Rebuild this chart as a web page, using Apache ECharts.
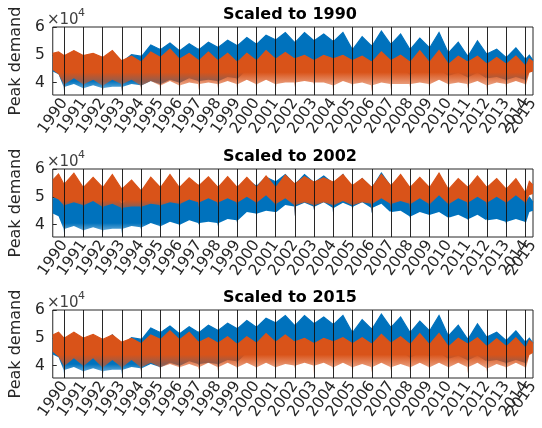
<!DOCTYPE html>
<html>
<head>
<meta charset="utf-8">
<script src="https://cdn.jsdelivr.net/npm/echarts@6/dist/echarts.min.js"></script>
<style>
  html, body { margin: 0; padding: 0; background: #fff; }
  #chart { width: 542px; height: 428px; }
</style>
</head>
<body>
<div id="chart"></div>
<script>
// 年份刻度 (x 轴), 数据从 1989.4 到 2014.39
var years = [1990, 1991, 1992, 1993, 1994, 1995, 1996, 1997, 1998, 1999, 2000, 2001, 2002,
  2003, 2004, 2005, 2006, 2007, 2008, 2009, 2010, 2011, 2012, 2013, 2014];
var xStart = 1989.4;
var xEnd = 2014.39;
var tickLabels = ['1990', '1991', '1992', '1993', '1994', '1995', '1996', '1997', '1998', '1999',
  '2000', '2001', '2002', '2003', '2004', '2005', '2006', '2007', '2008', '2009', '2010', '2011',
  '2012', '2013', '2014', '2015'];
var yTicks = [4, 5, 6];

// values in units of 10^4
// *Mid: middle of each year (first = partial 1989, last = partial 2014), 26 values
// *Edge: next to each year boundary (start, 1990..2014, end), 27 values
// *Dip: holiday dip right at 1990..2014, 25 values
var blueHiMid = [5.05, 5.1, 5.0, 5.1, 5.0, 5.35, 5.42, 5.4, 5.45, 5.52, 5.62, 5.7, 5.8,
  5.8, 5.75, 5.8, 5.65, 5.85, 5.75, 5.6, 5.8, 5.45, 5.5, 5.2, 5.25, 4.98];
var blueHiEdge = [4.9, 4.85, 4.85, 4.8, 4.75, 4.95, 5.2, 5.16, 5.2, 5.28, 5.34, 5.4, 5.55, 5.46,
  5.52, 5.5, 5.22, 5.34, 5.4, 5.22, 5.28, 5.1, 4.98, 5.04, 4.92, 4.86, 4.8];
var blueLoMid = [4.3, 3.95, 3.9, 3.85, 3.95, 4.05, 4.1, 4.15, 4.1, 4.2, 4.45, 4.5, 4.7,
  4.78, 4.8, 4.78, 4.8, 4.75, 4.5, 4.45, 4.45, 4.35, 4.35, 4.2, 4.2, 4.45];
var blueLoEdge = [4.4, 3.85, 3.8, 3.8, 3.85, 3.9, 3.95, 4.0, 4.05, 4.05, 4.15, 4.4, 4.45, 4.65,
  4.65, 4.6, 4.65, 4.6, 4.45, 4.3, 4.35, 4.25, 4.2, 4.15, 4.1, 4.1, 4.5];
var blueDip = [3.6, 3.72, 3.68, 3.68, 3.8, 3.87, 3.93, 3.99, 3.93, 4.04, 4.35, 4.45, 4.3,
  4.5, 4.28, 4.5, 4.4, 4.5, 4.22, 4.35, 4.29, 4.17, 4.22, 3.98, 4.05];

// scaled to 1990
var o1HiMid = [5.1, 5.15, 5.05, 5.15, 4.95, 5.1, 5.2, 5.05, 5.1, 5.05, 5.05, 5.15, 5.08,
  4.98, 4.98, 4.98, 4.95, 5.1, 4.98, 5.15, 5.15, 4.95, 4.95, 4.9, 4.95, 4.85];
var o1HiEdge = [5.05, 4.98, 4.98, 4.92, 4.8, 4.75, 4.92, 4.86, 4.8, 4.8, 4.75, 4.8, 4.86, 4.86,
  4.8, 4.86, 4.8, 4.75, 4.8, 4.75, 4.75, 4.68, 4.75, 4.68, 4.68, 4.62, 4.75];
var o1LoMid = [4.3, 4.15, 4.1, 4.1, 4.1, 4.05, 4.05, 4.0, 4.0, 4.05, 4.1, 4.1, 4.0,
  4.05, 4.0, 4.05, 4.0, 4.0, 3.95, 4.0, 4.1, 4.0, 4.05, 4.0, 4.05, 4.35];
var o1LoEdge = [4.45, 3.95, 3.95, 3.9, 3.95, 3.9, 3.9, 3.9, 3.95, 3.95, 3.95, 3.95, 3.95, 4.0,
  4.0, 3.9, 3.95, 3.9, 3.95, 3.95, 3.95, 3.95, 3.95, 3.9, 3.95, 3.95, 4.4];
var o1Dip = [3.66, 3.72, 3.6, 3.66, 3.66, 3.6, 3.6, 3.72, 3.78, 3.72, 3.72, 3.72, 3.84,
  3.9, 3.6, 3.72, 3.66, 3.72, 3.78, 3.72, 3.78, 3.78, 3.66, 3.72, 3.84];

// scaled to 2002
var o2HiMid = [5.82, 5.85, 5.7, 5.8, 5.6, 5.7, 5.8, 5.68, 5.72, 5.72, 5.7, 5.75, 5.78,
  5.72, 5.68, 5.8, 5.66, 5.8, 5.8, 5.7, 5.85, 5.65, 5.75, 5.65, 5.65, 5.55];
var o2HiEdge = [5.6, 5.48, 5.36, 5.36, 5.3, 5.24, 5.36, 5.36, 5.42, 5.36, 5.36, 5.36, 5.36, 5.48,
  5.54, 5.54, 5.42, 5.36, 5.42, 5.36, 5.36, 5.3, 5.36, 5.36, 5.3, 5.18, 5.42];
var o2LoMid = [4.9, 4.8, 4.85, 4.75, 4.65, 4.75, 4.8, 4.9, 4.95, 4.95, 5.0, 5.05, 4.95,
  4.8, 4.8, 4.85, 4.8, 4.95, 4.85, 4.95, 5.05, 4.95, 5.0, 5.0, 5.05, 5.05];
var o2LoEdge = [5.0, 4.7, 4.7, 4.65, 4.6, 4.65, 4.7, 4.75, 4.8, 4.8, 4.8, 4.8, 4.75, 4.7,
  4.7, 4.7, 4.7, 4.75, 4.75, 4.75, 4.75, 4.75, 4.8, 4.8, 4.8, 4.8, 5.1];
var o2Dip = [4.5, 4.55, 4.5, 4.5, 4.55, 4.55, 4.6, 4.6, 4.6, 4.6, 4.45, 4.47, 4.3,
  4.52, 4.29, 4.53, 4.41, 4.53, 4.4, 4.45, 4.5, 4.4, 4.5, 4.3, 4.35];

// scaled to 2015
var o3HiMid = [5.2, 5.2, 5.12, 5.1, 4.98, 5.1, 5.25, 5.2, 5.0, 5.04, 5.04, 5.15, 5.1,
  4.98, 4.98, 5.0, 5.0, 5.12, 5.04, 5.15, 5.15, 4.98, 5.0, 4.96, 5.0, 4.9];
var o3HiEdge = [5.1, 5.0, 5.0, 4.95, 4.85, 4.8, 4.95, 4.95, 4.85, 4.82, 4.78, 4.82, 4.86, 4.86,
  4.8, 4.86, 4.8, 4.78, 4.82, 4.78, 4.78, 4.7, 4.78, 4.7, 4.7, 4.65, 4.8];
var o3LoMid = [4.32, 4.26, 4.26, 4.2, 4.2, 4.1, 4.05, 4.05, 4.1, 4.1, 4.1, 4.1, 4.05,
  4.1, 4.1, 4.1, 4.05, 4.1, 4.05, 4.1, 4.1, 4.1, 4.1, 4.05, 4.1, 4.38];
var o3LoEdge = [4.5, 4.0, 4.0, 3.95, 3.95, 3.95, 3.95, 3.95, 3.95, 3.95, 3.95, 3.95, 3.95, 4.0,
  4.0, 3.95, 3.95, 3.95, 3.95, 3.95, 3.95, 3.95, 3.95, 3.9, 3.95, 3.95, 4.45];
var o3Dip = [3.75, 3.8, 3.72, 3.78, 3.72, 3.72, 3.78, 3.84, 3.78, 3.84, 3.84, 3.9, 3.9,
  3.6, 3.8, 3.7, 3.75, 3.8, 3.75, 3.8, 3.8, 3.72, 3.75, 3.78, 3.85];

var BLUE = '#0072BD';
var ORANGE = '#D95319';
var FONT = 'DejaVu Sans';
var TXT = '#262626';

var tickPos = years.concat([xEnd]);
// 两根叠放的 x 轴各显示一半刻度标签, 以免 echarts 隐藏重叠的首尾标签
var evenPos = tickPos.filter(function (v, i) { return i % 2 === 0 && i < years.length; });
var oddPos = tickPos.filter(function (v, i) { return i % 2 === 1 || i === years.length; });
var gridTops = [27, 169, 310];
var titles = ['Scaled to 1990', 'Scaled to 2002', 'Scaled to 2015'];
var oranges = [
  [o1HiMid, o1HiEdge, o1LoMid, o1LoEdge, o1Dip],
  [o2HiMid, o2HiEdge, o2LoMid, o2LoEdge, o2Dip],
  [o3HiMid, o3HiEdge, o3LoMid, o3LoEdge, o3Dip]
];

// [x, hi, lo] 点列
var bandPoints = function (hiMid, hiEdge, loMid, loEdge, dip) {
  var pts = [[xStart, hiEdge[0], loEdge[0]], [1989.7, hiMid[0], loMid[0]]];
  years.forEach(function (y, i) {
    pts.push([y - 0.04, hiEdge[i + 1], loEdge[i + 1]]);
    pts.push([y, hiEdge[i + 1], dip[i]]);
    pts.push([y + 0.04, hiEdge[i + 1], loEdge[i + 1]]);
    pts.push([i < years.length - 1 ? y + 0.5 : 2014.2, hiMid[i + 1], loMid[i + 1]]);
  });
  pts.push([xEnd, hiEdge[26], loEdge[26]]);
  return pts;
};

// 下部颜色变浅 (稀疏的日值)
var fade = function (rgb, solidTo, lightFrom, alpha) {
  return {
    type: 'linear', x: 0, y: 0, x2: 0, y2: 1,
    colorStops: [
      { offset: 0, color: 'rgb(' + rgb + ')' },
      { offset: solidTo, color: 'rgb(' + rgb + ')' },
      { offset: lightFrom, color: 'rgba(' + rgb + ',' + alpha + ')' },
      { offset: 1, color: 'rgba(' + rgb + ',' + alpha + ')' }
    ]
  };
};

// 带状区域: 上下包络之间填色
var band = function (g, pts, fill, stroke) {
  return {
    type: 'custom', xAxisIndex: 2 * g, yAxisIndex: g, silent: true, animation: false, clip: true,
    data: pts,
    encode: { x: 0, y: [1, 2] },
    renderItem: function (params, api) {
      if (params.dataIndex !== 0) return null;
      var top = pts.map(function (p) { return api.coord([p[0], p[1]]); });
      var bot = pts.map(function (p) { return api.coord([p[0], p[2]]); }).reverse();
      return {
        type: 'group',
        children: [
          { type: 'polygon', shape: { points: top.concat(bot) }, style: { fill: fill } },
          { type: 'polyline', shape: { points: top }, style: { fill: null, stroke: stroke, lineWidth: 1.2 } }
        ]
      };
    }
  };
};

var xAxisFor = function (g, values) {
  return {
    type: 'value', gridIndex: g, min: xStart, max: xEnd, position: 'bottom', offset: 0,
    axisLine: { show: false }, splitLine: { show: false }, axisTick: { show: false },
    axisLabel: {
      customValues: values,
      showMinLabel: true, showMaxLabel: true,
      formatter: function (v) {
        return v > 2014.2 ? tickLabels[25] : tickLabels[Math.round(v) - 1990];
      },
      rotate: 55, margin: 5, fontSize: 15.5, color: TXT, fontFamily: FONT
    }
  };
};

var grids = [], xAxes = [], yAxes = [], series = [], graphics = [];
gridTops.forEach(function (top, g) {
  grids.push({ left: 47, top: top, width: 486, height: 68, show: true,
    borderColor: TXT, borderWidth: 1 });
  xAxes.push(xAxisFor(g, evenPos));
  xAxes.push(xAxisFor(g, oddPos));
  yAxes.push({
    type: 'value', gridIndex: g, min: 3.55, max: 6,
    name: 'Peak demand', nameLocation: 'middle', nameGap: 21,
    nameTextStyle: { fontSize: 16, color: TXT, fontFamily: FONT },
    axisLine: { show: false }, splitLine: { show: false },
    axisTick: { show: true, inside: true, length: 4, customValues: yTicks, lineStyle: { color: TXT } },
    axisLabel: { customValues: yTicks, margin: 8, fontSize: 15.5, color: TXT, fontFamily: FONT }
  });

  var o = oranges[g];
  series.push(band(g, bandPoints(blueHiMid, blueHiEdge, blueLoMid, blueLoEdge, blueDip),
    fade('0,114,189', 0.8, 0.92, 0.6), BLUE));
  series.push(band(g, bandPoints(o[0], o[1], o[2], o[3], o[4]),
    fade('217,83,25', g === 1 ? 0.62 : 0.52, g === 1 ? 0.82 : 0.8, 0.55), ORANGE));
  // 年份竖线
  series.push({
    type: 'line', xAxisIndex: 2 * g, yAxisIndex: g, data: [], silent: true, animation: false,
    markLine: {
      silent: true, symbol: 'none', animation: false, label: { show: false },
      lineStyle: { color: '#111', width: 1, type: 'solid', opacity: 0.9 },
      emphasis: { disabled: true },
      data: years.map(function (y) { return { xAxis: y }; })
    }
  });

  graphics.push({ type: 'text', x: 290, y: top - 12, z: 10, style: {
    text: titles[g], font: 'bold 16px "DejaVu Sans"', fill: '#000',
    align: 'center', verticalAlign: 'middle', textAlign: 'center', textVerticalAlign: 'middle' } });
  graphics.push({ type: 'text', x: 47, y: top - 7, z: 10, style: {
    text: '\u00d710', font: '15px "DejaVu Sans"', fill: '#404040',
    align: 'left', verticalAlign: 'middle', textAlign: 'left', textVerticalAlign: 'middle' } });
  graphics.push({ type: 'text', x: 78, y: top - 14, z: 10, style: {
    text: '4', font: '11px "DejaVu Sans"', fill: '#404040',
    align: 'left', verticalAlign: 'middle', textAlign: 'left', textVerticalAlign: 'middle' } });
});

var option = {
  animation: false,
  backgroundColor: '#fff',
  grid: grids,
  xAxis: xAxes,
  yAxis: yAxes,
  series: series,
  graphic: graphics
};

var myChart = echarts.init(document.getElementById('chart'), null, { renderer: 'canvas' });
myChart.setOption(option);
</script>
</body>
</html>
